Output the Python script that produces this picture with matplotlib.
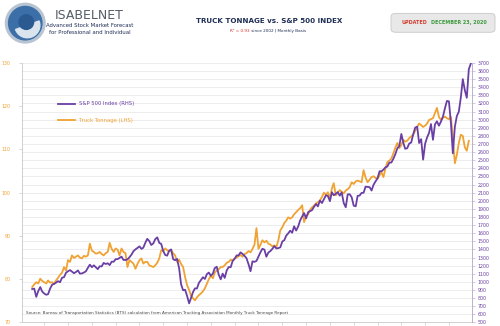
import matplotlib
matplotlib.use("Agg")
import matplotlib.pyplot as plt
import matplotlib.dates as mdates
import matplotlib.transforms as mtransforms
from matplotlib.lines import Line2D
from matplotlib.patches import FancyBboxPatch, Circle, Wedge
import pandas as pd

# Monthly data, Jul 2002 onwards
truck_tonnage = [
    78.2, 78.8, 79.3, 79.0, 80.1, 79.6,
    79.3, 79.0, 79.7, 79.2, 79.3, 78.9, 79.7, 80.3, 81.0, 81.5, 82.8, 82.0,
    84.4, 84.0, 85.5, 84.9, 85.2, 85.5, 85.0, 84.8, 85.4, 85.2, 85.5, 88.2,
    86.6, 86.3, 85.9, 86.0, 86.3, 85.8, 85.5, 86.0, 86.3, 88.4, 87.0, 86.3,
    87.1, 86.8, 85.5, 87.1, 86.3, 86.0, 82.8, 84.4, 84.0, 83.6, 82.4, 83.5,
    84.4, 84.8, 83.6, 84.0, 84.0, 83.2, 83.0, 82.8, 83.2, 83.8, 84.8, 86.7,
    86.5, 87.1, 86.7, 86.4, 86.7, 86.0, 85.5, 84.0, 84.5, 83.5, 82.8, 80.5,
    78.6, 77.5, 76.2, 75.6, 75.1, 75.8, 76.3, 76.7, 77.2, 77.9, 79.0, 80.0,
    80.8, 80.2, 81.5, 82.0, 82.3, 82.8, 82.8, 83.2, 83.8, 84.0, 84.5, 84.3,
    84.8, 85.0, 85.3, 85.6, 85.2, 85.8, 86.0, 86.5, 86.2, 87.0, 88.0, 91.8,
    87.0, 88.0, 89.0, 88.5, 88.9, 88.2, 88.0, 87.6, 87.8, 87.4, 89.0, 91.3,
    92.0, 93.0, 93.5, 94.3, 94.0, 94.3, 95.0, 95.5, 96.0, 96.4, 97.1, 93.2,
    94.6, 95.0, 96.0, 96.6, 97.0, 97.5, 97.8, 98.2, 99.0, 100.0, 99.5, 100.1,
    98.7, 101.0, 102.2, 99.4, 100.0, 100.6, 100.2, 99.8, 100.5, 100.8, 101.3, 102.4,
    102.0, 102.6, 102.8, 102.6, 102.4, 105.2, 103.5, 102.4, 103.0, 103.6, 103.8, 103.4,
    103.2, 104.0, 104.8, 103.6, 105.5, 107.1, 107.4, 107.9, 109.1, 110.4, 111.5, 110.3,
    111.0, 112.2, 111.8, 112.0, 112.6, 113.0, 113.4, 114.3, 115.2, 116.0, 115.6, 115.2,
    115.5, 116.0, 116.8, 117.0, 117.2, 118.4, 119.6, 117.5, 116.8, 117.3, 117.6, 117.2,
    117.0, 117.5, 112.6, 106.8, 108.7, 111.5, 113.4, 113.1, 110.5, 109.7, 112.0,
]

sp500 = [
    912, 916, 815, 886, 936, 880,
    856, 841, 848, 917, 964, 975, 990, 1008, 996, 1051, 1058, 1112,
    1131, 1145, 1126, 1107, 1121, 1141, 1102, 1104, 1115, 1130, 1174, 1212,
    1181, 1204, 1181, 1157, 1192, 1191, 1234, 1220, 1229, 1207, 1249, 1248,
    1280, 1281, 1295, 1311, 1270, 1270, 1277, 1304, 1336, 1378, 1401, 1418,
    1438, 1407, 1421, 1482, 1531, 1503, 1455, 1474, 1527, 1549, 1481, 1468,
    1379, 1331, 1323, 1386, 1400, 1280, 1267, 1283, 1166, 969, 896, 903,
    826, 735, 798, 873, 919, 919, 987, 1021, 1057, 1036, 1096, 1115,
    1074, 1104, 1169, 1187, 1089, 1031, 1102, 1049, 1141, 1183, 1181, 1258,
    1286, 1327, 1326, 1364, 1345, 1321, 1292, 1219, 1131, 1253, 1247, 1258,
    1312, 1366, 1408, 1398, 1310, 1362, 1379, 1407, 1441, 1412, 1416, 1426,
    1498, 1515, 1569, 1598, 1631, 1606, 1686, 1633, 1682, 1757, 1806, 1848,
    1783, 1859, 1872, 1884, 1924, 1960, 1931, 2003, 1972, 2018, 2068, 2059,
    1995, 2105, 2068, 2086, 2107, 2063, 2104, 1972, 1920, 2079, 2080, 2044,
    1940, 1932, 2060, 2065, 2097, 2099, 2174, 2171, 2168, 2126, 2199, 2239,
    2279, 2364, 2363, 2384, 2412, 2423, 2470, 2472, 2519, 2575, 2648, 2674,
    2824, 2714, 2641, 2648, 2705, 2718, 2816, 2902, 2914, 2712, 2760, 2507,
    2704, 2784, 2834, 2946, 2752, 2942, 2980, 2926, 2977, 3038, 3141, 3231,
    3226, 2954, 2585, 2912, 3044, 3100, 3271, 3500, 3363, 3270, 3622, 3690,
]

truck_dates = pd.date_range("2002-07-01", periods=len(truck_tonnage), freq="MS")
sp_dates = pd.date_range("2002-07-01", periods=len(sp500), freq="MS")

left_ticks = [70, 80, 90, 100, 110, 120, 130]
right_ticks = list(range(500, 3701, 100))

orange = "#F0A232"
purple = "#6A3FA5"
navy = "#1F2E55"

fig = plt.figure(figsize=(5, 3.26), dpi=100)
fig.patch.set_facecolor("white")

# --- header ---
logo = fig.add_axes([0.008, 0.865, 0.085, 0.128])
logo.set_xlim(-1, 1)
logo.set_ylim(-1, 1)
logo.set_aspect("equal")
logo.axis("off")
logo.add_patch(Circle((0, 0), 0.95, color="#B8C4D2"))
logo.add_patch(Circle((0, 0), 0.8, color="#3C6FA8"))
logo.add_patch(Wedge((0.1, -0.1), 0.6, 200, 20, color="#D9E4EF"))
logo.add_patch(Circle((0.05, 0.05), 0.35, color="#2B5A91"))

fig.text(0.179, 0.953, "ISABELNET", fontsize=9, color="#555d66", ha="center", va="center")
fig.text(0.179, 0.922, "Advanced Stock Market Forecast", fontsize=3.9, color=navy, ha="center", va="center")
fig.text(0.179, 0.9, "for Professional and Individual", fontsize=3.9, color=navy, ha="center", va="center")

fig.text(0.538, 0.936, "TRUCK TONNAGE vs. S&P 500 INDEX", fontsize=5.1, fontweight="bold",
         color=navy, ha="center", va="center")
fig.text(0.5, 0.906, "R² = 0.93", fontsize=3.0, color="#D0302A", ha="right", va="center")
fig.text(0.5, 0.906, " since 2002 | Monthly Basis", fontsize=3.0, color=navy, ha="left", va="center")

box = FancyBboxPatch((0.786, 0.905), 0.2, 0.05, boxstyle="round,pad=0.004,rounding_size=0.01",
                     transform=fig.transFigure, facecolor="#E8E8E8", edgecolor="#C8C8C8", linewidth=0.6)
fig.patches.append(box)
fig.text(0.829, 0.93, "UPDATED", fontsize=3.5, fontweight="bold", color="#D33A2C", ha="center", va="center")
fig.text(0.918, 0.93, "DECEMBER 23, 2020", fontsize=3.5, fontweight="bold", color="#3B9A3B",
         ha="center", va="center")

# --- chart ---
ax = fig.add_axes([0.044, 0.011, 0.9, 0.796])
ax2 = ax.twinx()

ax.set_ylim(70, 130)
ax2.set_ylim(500, 3700)
ax.set_xlim(pd.Timestamp("2002-01-25"), pd.Timestamp("2020-12-20"))

# gridlines every 100 on the right scale, drawn under both lines
grid_tr = mtransforms.blended_transform_factory(ax.transAxes, ax2.transData)
for v in right_ticks:
    ax.add_line(Line2D([0, 1], [v, v], transform=grid_tr, color="#E6E6E6", lw=0.5, zorder=0))

ax.plot(truck_dates, truck_tonnage, color=orange, lw=1.3, label="Truck Tonnage (LHS)", zorder=2)
ax2.plot(sp_dates, sp500, color=purple, lw=1.3, label="S&P 500 Index (RHS)", zorder=2)

ax.set_yticks(left_ticks)
ax2.set_yticks(right_ticks)
ax.tick_params(axis="y", labelsize=3.4, labelcolor=orange, length=2, width=0.4, color="#BBBBBB", pad=6)
ax2.tick_params(axis="y", labelsize=3.4, labelcolor=purple, length=2, width=0.4, color="#B0A5C8", pad=2)

ax.xaxis.set_major_locator(mdates.YearLocator())
ax.tick_params(axis="x", labelbottom=False, length=2, width=0.4, color="#BBBBBB", direction="out")

for a in (ax, ax2):
    a.spines["top"].set_visible(False)
ax.spines["right"].set_visible(False)
ax2.spines["left"].set_visible(False)
ax2.spines["bottom"].set_visible(False)
ax.spines["left"].set_color("#C8C8C8")
ax.spines["bottom"].set_color("#C8C8C8")
ax2.spines["right"].set_color("#B0A5C8")
for s in ("left", "bottom"):
    ax.spines[s].set_linewidth(0.6)
ax2.spines["right"].set_linewidth(0.6)

h1, l1 = ax2.get_legend_handles_labels()
h2, l2 = ax.get_legend_handles_labels()
leg = ax2.legend(h1 + h2, l1 + l2, loc="upper left", bbox_to_anchor=(0.07, 0.87), frameon=False,
                 fontsize=3.8, handlelength=3.2, labelspacing=2.2, handletextpad=0.8)
for txt, c in zip(leg.get_texts(), [purple, orange]):
    txt.set_color(c)

ax.text(0.01, 0.035, "Source: Bureau of Transportation Statistics (BTS) calculation from American Trucking "
        "Association Monthly Truck Tonnage Report", transform=ax.transAxes, fontsize=3, color="#444444",
        ha="left", va="center")

fig.savefig("out.png", dpi=100)
